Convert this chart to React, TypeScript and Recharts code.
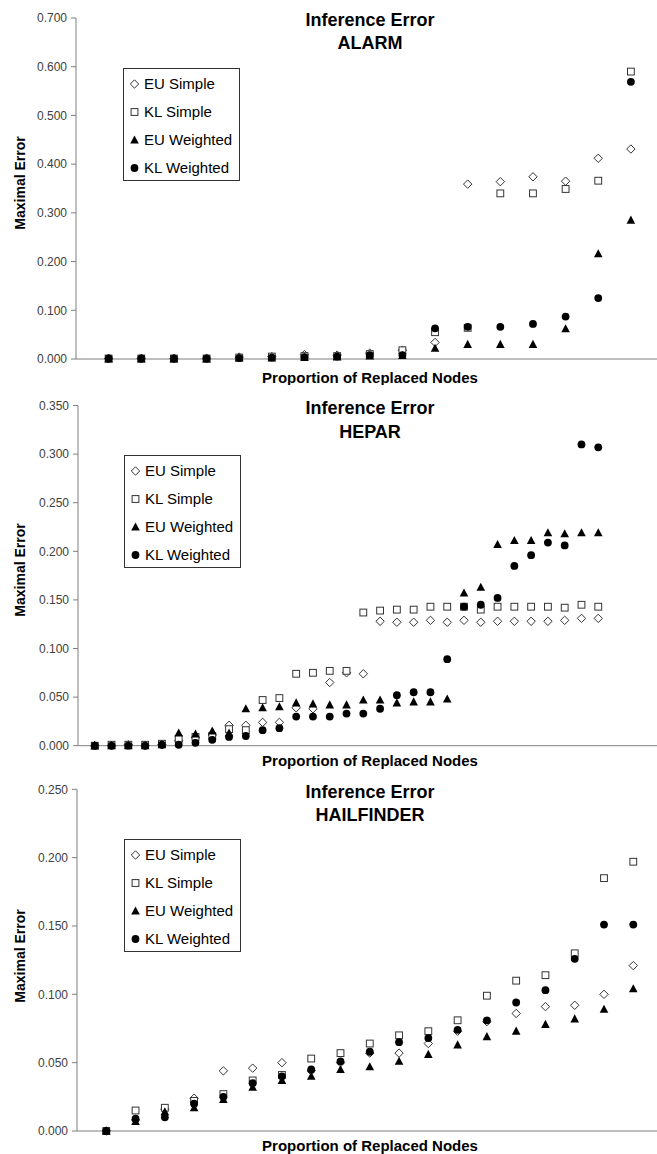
import React from 'react';
import { ScatterChart, Scatter, XAxis, YAxis, Legend } from 'recharts';

const FONT = '"Liberation Sans", Arial, Helvetica, sans-serif';

// ---------- ALARM ----------
const alarmNodes = [1, 2, 3, 4, 5, 6, 7, 8, 9, 10, 11, 12, 13, 14, 15, 16, 17];
const alarmEUSimple = [0.001, 0.001, 0.001, 0.001, 0.004, 0.005, 0.009, 0.008, 0.012, 0.018, 0.034, 0.359, 0.364, 0.374, 0.365, 0.412, 0.431];
const alarmKLSimple = [0.001, 0.001, 0.001, 0.001, 0.003, 0.005, 0.006, 0.006, 0.010, 0.018, 0.055, 0.064, 0.340, 0.340, 0.349, 0.366, 0.590];
const alarmEUWeighted = [0.000, 0.000, 0.000, 0.000, 0.002, 0.002, 0.003, 0.004, 0.006, 0.007, 0.022, 0.030, 0.030, 0.030, 0.062, 0.216, 0.285];
const alarmKLWeighted = [0.001, 0.001, 0.001, 0.001, 0.002, 0.003, 0.004, 0.005, 0.008, 0.008, 0.063, 0.066, 0.066, 0.072, 0.087, 0.125, 0.569];
const alarmTicks = [0, 0.1, 0.2, 0.3, 0.4, 0.5, 0.6, 0.7];

// ---------- HEPAR ----------
const heparNodes = [1, 2, 3, 4, 5, 6, 7, 8, 9, 10, 11, 12, 13, 14, 15, 16, 17, 18, 19, 20, 21, 22, 23, 24, 25, 26, 27, 28, 29, 30, 31];
const heparEUSimple = [0.000, 0.000, 0.001, 0.000, 0.001, 0.005, 0.008, 0.011, 0.021, 0.021, 0.024, 0.024, 0.039, 0.038, 0.065, 0.075, 0.074, 0.128, 0.127, 0.127, 0.129, 0.127, 0.129, 0.127, 0.128, 0.128, 0.128, 0.128, 0.129, 0.131, 0.131];
const heparKLSimple = [0.000, 0.001, 0.001, 0.001, 0.002, 0.007, 0.009, 0.010, 0.017, 0.016, 0.047, 0.049, 0.074, 0.075, 0.077, 0.077, 0.137, 0.139, 0.140, 0.140, 0.143, 0.143, 0.143, 0.140, 0.143, 0.143, 0.143, 0.143, 0.142, 0.145, 0.143];
const heparEUWeighted = [0.000, 0.000, 0.000, 0.000, 0.001, 0.013, 0.012, 0.015, 0.013, 0.038, 0.039, 0.040, 0.044, 0.043, 0.042, 0.042, 0.047, 0.047, 0.044, 0.045, 0.045, 0.048, 0.157, 0.163, 0.207, 0.211, 0.211, 0.219, 0.218, 0.219, 0.219];
const heparKLWeighted = [0.000, 0.000, 0.000, 0.000, 0.001, 0.001, 0.003, 0.006, 0.009, 0.010, 0.016, 0.018, 0.030, 0.030, 0.030, 0.033, 0.033, 0.038, 0.052, 0.055, 0.055, 0.089, 0.143, 0.145, 0.152, 0.185, 0.196, 0.209, 0.206, 0.310, 0.307];
const heparTicks = [0, 0.05, 0.1, 0.15, 0.2, 0.25, 0.3, 0.35];

// ---------- HAILFINDER ----------
const hailNodes = [1, 2, 3, 4, 5, 6, 7, 8, 9, 10, 11, 12, 13, 14, 15, 16, 17, 18, 19];
const hailEUSimple = [0.000, 0.008, 0.016, 0.024, 0.044, 0.046, 0.050, 0.044, 0.050, 0.057, 0.057, 0.064, 0.073, 0.080, 0.086, 0.091, 0.092, 0.100, 0.121];
const hailKLSimple = [0.000, 0.015, 0.017, 0.022, 0.027, 0.037, 0.041, 0.053, 0.057, 0.064, 0.070, 0.073, 0.081, 0.099, 0.110, 0.114, 0.130, 0.185, 0.197];
const hailEUWeighted = [0.000, 0.007, 0.014, 0.017, 0.023, 0.032, 0.037, 0.040, 0.045, 0.047, 0.051, 0.056, 0.063, 0.069, 0.073, 0.078, 0.082, 0.089, 0.104];
const hailKLWeighted = [0.000, 0.009, 0.010, 0.020, 0.025, 0.035, 0.040, 0.045, 0.051, 0.058, 0.065, 0.068, 0.074, 0.081, 0.094, 0.103, 0.126, 0.151, 0.151];
const hailTicks = [0, 0.05, 0.1, 0.15, 0.2, 0.25];

const seriesNames = ['EU Simple', 'KL Simple', 'EU Weighted', 'KL Weighted'];
const seriesKinds = ['diamond', 'square', 'triangle', 'circle'];

const toPoints = (xs: number[], ys: number[]) => xs.map((x, i) => ({ x, y: ys[i] }));

function Marker({ kind, cx, cy }: { kind: string; cx: number; cy: number }) {
  if (cx == null || cy == null || isNaN(cx) || isNaN(cy)) return null;
  if (kind === 'diamond') {
    const r = 4.2;
    return <path d={`M${cx},${cy - r}L${cx + r},${cy}L${cx},${cy + r}L${cx - r},${cy}Z`} fill="#fff" stroke="#333" strokeWidth={1} />;
  }
  if (kind === 'square') {
    const s = 3.4;
    return <rect x={cx - s} y={cy - s} width={2 * s} height={2 * s} fill="#fff" stroke="#333" strokeWidth={1} />;
  }
  if (kind === 'triangle') {
    return <path d={`M${cx},${cy - 4.6}L${cx + 4.3},${cy + 3.5}L${cx - 4.3},${cy + 3.5}Z`} fill="#000" />;
  }
  return <circle cx={cx} cy={cy} r={3.9} fill="#000" />;
}

function LegendBox() {
  return (
    <div style={{ position: 'relative', width: 117, height: 113, border: '1px solid #333', boxSizing: 'border-box', background: '#fff', fontFamily: FONT }}>
      {seriesNames.map((name, i) => (
        <div key={name} style={{ position: 'absolute', left: 0, top: 14.5 + i * 28 - 9, height: 18, display: 'flex', alignItems: 'center' }}>
          <svg width={20} height={18} style={{ display: 'block' }}>
            <Marker kind={seriesKinds[i]} cx={10.5} cy={9} />
          </svg>
          <span style={{ fontSize: 15, color: '#000', whiteSpace: 'nowrap', marginLeft: 0 }}>{name}</span>
        </div>
      ))}
    </div>
  );
}

type PanelCfg = {
  top: number;
  height: number;
  name: string;
  nodes: number[];
  values: number[][];
  ticks: number[];
  yMax: number;
  xMax: number;
  yAxisWidth: number;
  marginTop: number;
  xAxisHeight: number;
  legendLeft: number;
  legendTop: number;
  title1Y: number;
  title2Y: number;
  yLabelY: number;
  xLabelY: number;
};

const panels: PanelCfg[] = [
  {
    top: 0, height: 385, name: 'ALARM', nodes: alarmNodes,
    values: [alarmEUSimple, alarmKLSimple, alarmEUWeighted, alarmKLWeighted],
    ticks: alarmTicks, yMax: 0.7, xMax: 17.8, yAxisWidth: 76, marginTop: 18, xAxisHeight: 26,
    legendLeft: 123, legendTop: 68, title1Y: 20, title2Y: 43, yLabelY: 183, xLabelY: 377,
  },
  {
    top: 385, height: 385, name: 'HEPAR', nodes: heparNodes,
    values: [heparEUSimple, heparKLSimple, heparEUWeighted, heparKLWeighted],
    ticks: heparTicks, yMax: 0.35, xMax: 34.5, yAxisWidth: 78, marginTop: 20.5, xAxisHeight: 24.3,
    legendLeft: 124, legendTop: 70, title1Y: 23, title2Y: 47, yLabelY: 185, xLabelY: 375,
  },
  {
    top: 770, height: 384, name: 'HAILFINDER', nodes: hailNodes,
    values: [hailEUSimple, hailKLSimple, hailEUWeighted, hailKLWeighted],
    ticks: hailTicks, yMax: 0.25, xMax: 19.81, yAxisWidth: 77, marginTop: 19.3, xAxisHeight: 23,
    legendLeft: 124, legendTop: 69, title1Y: 22, title2Y: 45, yLabelY: 186, xLabelY: 375,
  },
];

function Panel({ cfg }: { cfg: PanelCfg }) {
  return (
    <div style={{ position: 'absolute', left: 0, top: cfg.top, width: 657, height: cfg.height }}>
      <ScatterChart width={657} height={cfg.height} margin={{ top: cfg.marginTop, right: 0, bottom: 0, left: 0 }}>
        <XAxis
          type="number"
          dataKey="x"
          domain={[0, cfg.xMax]}
          allowDataOverflow
          tick={false}
          tickLine={false}
          axisLine={{ stroke: '#7f7f7f', strokeWidth: 1 }}
          height={cfg.xAxisHeight}
        />
        <YAxis
          type="number"
          dataKey="y"
          domain={[0, cfg.yMax]}
          ticks={cfg.ticks}
          interval={0}
          tickFormatter={(v: number) => v.toFixed(3)}
          width={cfg.yAxisWidth}
          tickSize={5}
          tickMargin={4}
          tick={{ fill: '#404040', fontSize: 12, fontFamily: FONT }}
          tickLine={{ stroke: '#7f7f7f' }}
          axisLine={{ stroke: '#7f7f7f', strokeWidth: 1 }}
        />
        <Legend
          layout="vertical"
          align="center"
          verticalAlign="middle"
          wrapperStyle={{ left: cfg.legendLeft, top: cfg.legendTop, width: 117, height: 113 }}
          content={() => <LegendBox />}
        />
        {seriesNames.map((name, i) => (
          <Scatter
            key={name}
            name={name}
            data={toPoints(cfg.nodes, cfg.values[i])}
            isAnimationActive={false}
            shape={(p: any) => <Marker kind={seriesKinds[i]} cx={p.cx} cy={p.cy} />}
          />
        ))}
      </ScatterChart>
      <svg width={657} height={cfg.height} style={{ position: 'absolute', left: 0, top: 0, pointerEvents: 'none' }}>
        <text x={370} y={cfg.title1Y} textAnchor="middle" dominantBaseline="central" fontFamily={FONT} fontWeight="bold" fontSize={18} fill="#000">Inference Error</text>
        <text x={370} y={cfg.title2Y} textAnchor="middle" dominantBaseline="central" fontFamily={FONT} fontWeight="bold" fontSize={18} fill="#000">{cfg.name}</text>
        <text x={370} y={cfg.xLabelY} textAnchor="middle" dominantBaseline="central" fontFamily={FONT} fontWeight="bold" fontSize={15} fill="#000">Proportion of Replaced Nodes</text>
        <text x={20} y={cfg.yLabelY} transform={`rotate(-90 20 ${cfg.yLabelY})`} textAnchor="middle" dominantBaseline="central" fontFamily={FONT} fontWeight="bold" fontSize={14} fill="#000">Maximal Error</text>
      </svg>
    </div>
  );
}

export default function App() {
  return (
    <div style={{ position: 'absolute', left: 0, top: 0, width: 657, height: 1154, background: '#fff', fontFamily: FONT }}>
      {panels.map((p) => (
        <Panel key={p.name} cfg={p} />
      ))}
    </div>
  );
}
